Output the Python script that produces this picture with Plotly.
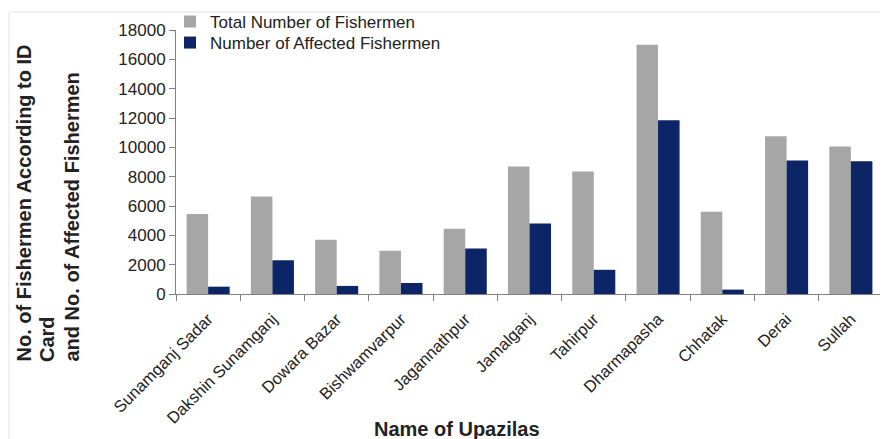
import plotly.graph_objects as go

upazilas = ["Sunamganj Sadar", "Dakshin Sunamganj", "Dowara Bazar", "Bishwamvarpur",
            "Jagannathpur", "Jamalganj", "Tahirpur", "Dharmapasha", "Chhatak", "Derai", "Sullah"]
total_fishermen = [5450, 6650, 3700, 2950, 4450, 8700, 8350, 17000, 5600, 10750, 10050]
affected_fishermen = [500, 2300, 550, 750, 3100, 4800, 1650, 11850, 300, 9100, 9050]
y_ticks = [0, 2000, 4000, 6000, 8000, 10000, 12000, 14000, 16000, 18000]
y_title_lines = ["No. of Fishermen According to ID", "Card", "and No. of Affected Fishermen"]

# page has an 8px body margin: figure spans screen x 8..888, y 8..439
W, H = 880, 431
L, R, T, B = 168, 5, 22, 145
pw, ph = W - L - R, H - T - B


def px(sx):  # screen x -> paper
    return (sx - 8 - L) / pw


def py(sy):  # screen y -> paper
    return (H - B - (sy - 8)) / ph


fig = go.Figure()
fig.add_trace(go.Bar(name="Total Number of Fishermen", x=upazilas, y=total_fishermen,
                     marker=dict(color="#a6a6a6", line=dict(width=0)), legend="legend"))
fig.add_trace(go.Bar(name="Number of Affected Fishermen", x=upazilas, y=affected_fishermen,
                     marker=dict(color="#0c2566", line=dict(width=0)), legend="legend2"))

legend_style = dict(xanchor="left", yanchor="top", bgcolor="rgba(0,0,0,0)",
                    font=dict(size=17, color="#222"), itemwidth=30)

annotations = [
    dict(text="<b>Name of Upazilas</b>", xref="paper", yref="paper",
         x=px(457), y=py(429), xanchor="center", yanchor="middle",
         showarrow=False, font=dict(size=20, color="#222")),
]
for line, sx in zip(y_title_lines, [23, 47, 71]):
    annotations.append(dict(text="<b>" + line + "</b>", xref="paper", yref="paper",
                            x=px(sx), y=py(364), xanchor="center", yanchor="bottom",
                            textangle=-90, showarrow=False, font=dict(size=20, color="#222")))

fig.update_layout(
    width=W, height=H,
    margin=dict(l=L, r=R, t=T, b=B, autoexpand=False),
    paper_bgcolor="white", plot_bgcolor="white",
    barmode="group", bargap=0.33, bargroupgap=0,
    font=dict(family="Liberation Sans, Arial, sans-serif", color="#222"),
    showlegend=True,
    legend=dict(x=px(170), y=py(4), **legend_style),
    legend2=dict(x=px(170), y=py(25), **legend_style),
    shapes=[dict(type="rect", xref="paper", yref="paper",
                 x0=px(9), x1=px(895), y0=py(460), y1=py(12),
                 line=dict(color="#e3e3e3", width=1), layer="below")],
    annotations=annotations,
)

fig.update_xaxes(
    type="category", showline=True, linecolor="#808080", linewidth=1,
    ticks="outside", tickson="boundaries", ticklen=6, tickcolor="#808080",
    tickangle=-45, tickfont=dict(size=16.5, color="#222"), showgrid=False,
    ticklabelstandoff=8, automargin=False,
)
fig.update_yaxes(
    range=[0, 18000], tickvals=y_ticks, tickformat="d", showline=True, linecolor="#808080",
    linewidth=1, ticks="outside", ticklen=6, tickcolor="#808080", showgrid=False, zeroline=False,
    tickfont=dict(size=17, color="#222"), automargin=False,
)

fig.write_html("out.html")
